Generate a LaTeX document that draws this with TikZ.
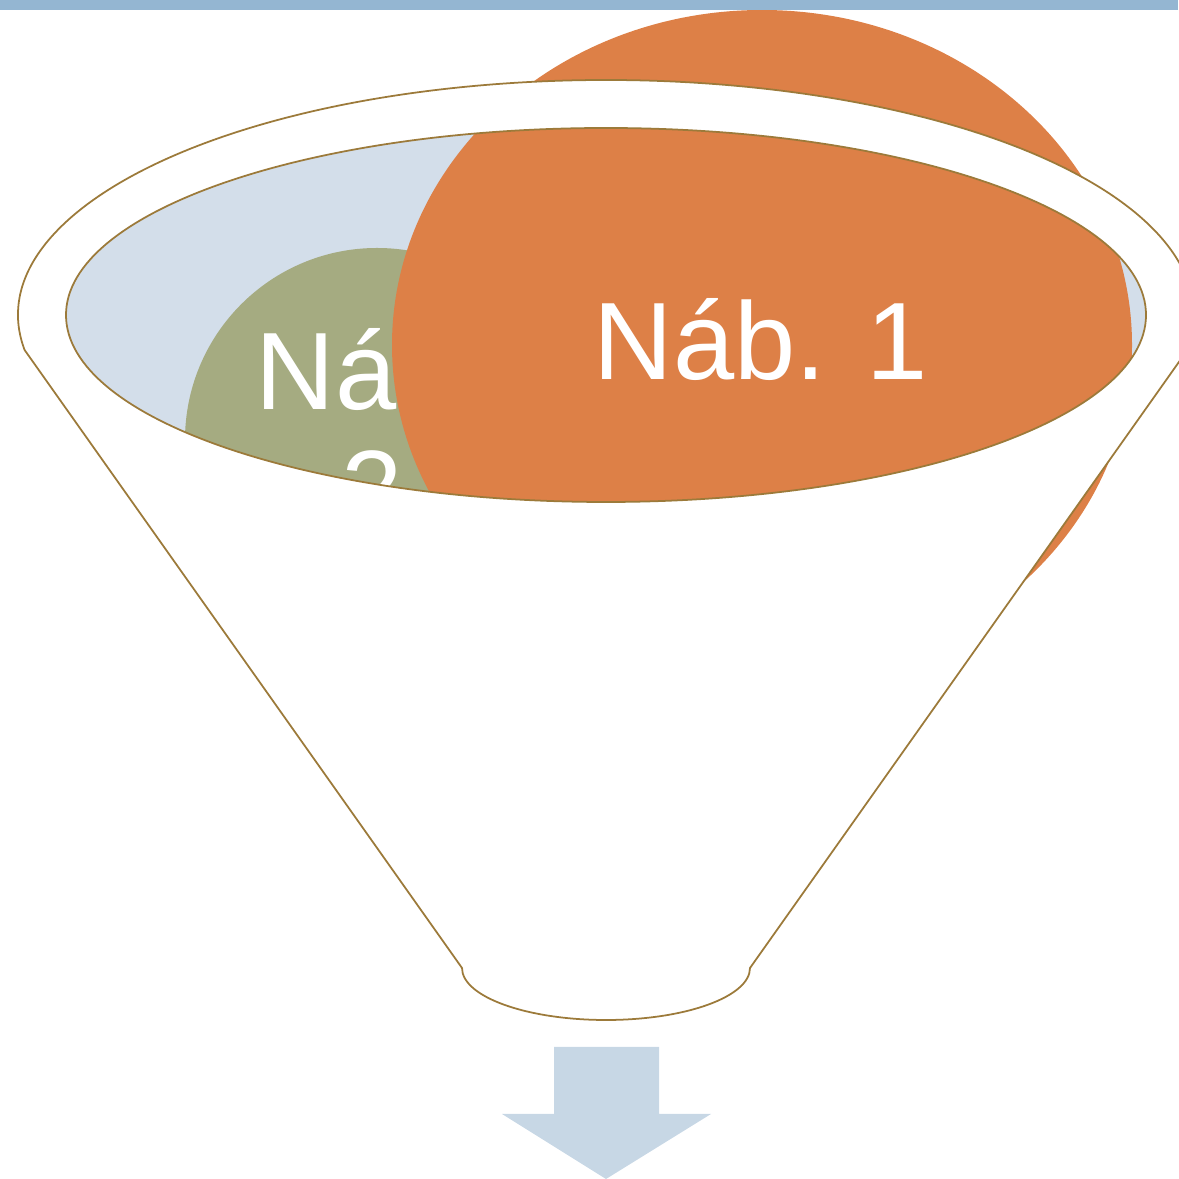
\documentclass[tikz,border=0pt]{standalone}
\usepackage{fontspec}
\setmainfont{Liberation Sans}
\definecolor{barblue}{HTML}{94B6D2}
\definecolor{innerblue}{HTML}{D3DEEA}
\definecolor{orangec}{HTML}{DD8047}
\definecolor{greenc}{HTML}{A5AB81}
\definecolor{rimline}{HTML}{9C7A3A}
\definecolor{arrowblue}{HTML}{C7D7E5}
\tikzset{
  lbl/.style={text=white, inner sep=0pt, font=\fontsize{31.3pt}{33.6pt}\selectfont},
  funnel/.style={fill=white, draw=rimline, line width=0.5pt, line join=round},
}
\begin{document}
\begin{tikzpicture}[x=0.01cm,y=0.01cm]
\useasboundingbox (0,0) rectangle (1178,1179);
% inner opening
\fill[innerblue] (606,864) ellipse [x radius=540, y radius=187];
% green circle with its label
\fill[greenc] (377,739) circle [radius=192];
\node[lbl, align=center, anchor=base] (n2) at (372,651) {Náb.\\2};
% orange circle with its label
\fill[orangec] (762,834) ellipse [x radius=370, y radius=335];
\node[lbl, anchor=base] (n1) at (761,799) {Náb. 1};
% funnel body with the opening cut out
\path[funnel, even odd rule]
  (24.6,829) arc [start angle=188.57, end angle=-8.57, x radius=588, y radius=235]
  -- (750,211) arc [start angle=0, end angle=-180, x radius=144, y radius=52]
  -- cycle
  (606,864) ellipse [x radius=540, y radius=187];
% top bar
\fill[barblue] (0,1169) rectangle (1178,1179);
% arrow below
\fill[arrowblue] (554,132) -- (659,132) -- (659,65) -- (711,65) -- (606,0) -- (502,65) -- (554,65) -- cycle;
\end{tikzpicture}
\end{document}
